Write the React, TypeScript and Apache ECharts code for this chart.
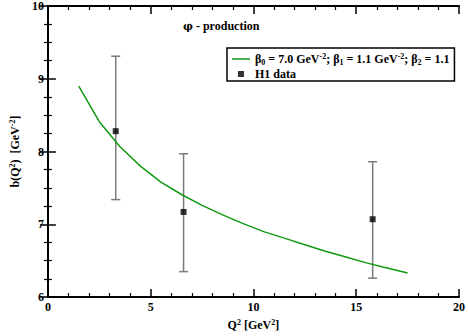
import React, { useEffect, useRef } from "react";
import * as echarts from "echarts";

const curveName = "β0 = 7.0 GeV-2; β1 = 1.1 GeV-2; β2 = 1.1";
const curveQ2 = [1.5, 2.5, 3.5, 4.5, 5.5, 6.5, 7.5, 8.5, 9.5, 10.5, 11.5, 12.5, 13.5, 14.5, 15.5, 16.5, 17.5];
const curveB = [8.9, 8.41, 8.07, 7.8, 7.58, 7.41, 7.26, 7.13, 7.01, 6.9, 6.81, 6.72, 6.63, 6.55, 6.47, 6.4, 6.33];

const h1Q2 = [3.3, 6.6, 15.8];
const h1B = [8.28, 7.17, 7.07];
const h1Low = [7.34, 6.35, 6.26];
const h1High = [9.31, 7.97, 7.86];

const xTicks = [0, 5, 10, 15, 20];
const yTicks = [6, 7, 8, 9, 10];

const FONT = "'Liberation Serif', 'Times New Roman', serif";
const base = { fontFamily: FONT, fontWeight: "bold" as const, fontSize: 12, color: "#000" };
const rich = {
  n: { ...base, lineHeight: 14 },
  sup: { ...base, fontSize: 8, lineHeight: 8, verticalAlign: "top" as const },
  sub: { ...base, fontSize: 8, lineHeight: 8, verticalAlign: "bottom" as const },
  g: { ...base, fontFamily: "'DejaVu Serif', serif", fontSize: 11, lineHeight: 14 },
};

export default function App() {
  const ref = useRef<HTMLDivElement>(null);
  useEffect(() => {
    if (!ref.current) return;
    const chart = echarts.init(ref.current, null, { renderer: "svg" });
    const axisLine = { show: true, lineStyle: { color: "#000", width: 2 } };
    const axisTick = { show: true, inside: true, length: 8, lineStyle: { color: "#000", width: 1.5 } };
    const minorTick = (n: number) => ({ show: true, splitNumber: n, length: 4, lineStyle: { color: "#000", width: 1.2 } });
    const label = { ...base, margin: 4 };
    const green = "#129912";
    chart.setOption({
      animation: false,
      backgroundColor: "#fff",
      title: {
        text: "{g|φ}{n| - production}",
        left: 183,
        top: 19,
        padding: 0,
        textStyle: { ...base, rich },
      },
      legend: {
        orient: "vertical",
        left: 227,
        top: 48,
        padding: [4, 5, 1, 5],
        itemGap: 2,
        itemWidth: 18,
        itemHeight: 6,
        symbolKeepAspect: true,
        borderColor: "#000",
        borderWidth: 1.5,
        selectedMode: false,
        data: [
          { name: curveName, icon: "path://M0,0H18V1.5H0Z", itemStyle: { color: green } },
          { name: "H1 data", icon: "path://M0,0H6V6H0Z", itemStyle: { color: "#000" } },
        ],
        formatter: (name: string) =>
          name === curveName
            ? "{n|β}{sub|0}{n| = 7.0 GeV}{sup|-2}{n|; β}{sub|1}{n| = 1.1 GeV}{sup|-2}{n|; β}{sub|2}{n| = 1.1}"
            : "{n|" + name + "}",
        textStyle: { ...base, rich },
      },
      grid: { left: 36, right: 8, top: 6, bottom: 34 },
      xAxis: [
        {
          type: "value",
          min: xTicks[0],
          max: xTicks[xTicks.length - 1],
          interval: 5,
          name: "{n|Q}{sup|2}{n| [GeV}{sup|2}{n|]}",
          nameLocation: "middle",
          nameGap: 20,
          nameTextStyle: { ...base, rich },
          axisLine,
          axisTick,
          minorTick: minorTick(5),
          axisLabel: label,
          splitLine: { show: false },
        },
        {
          type: "value",
          position: "top",
          min: xTicks[0],
          max: xTicks[xTicks.length - 1],
          interval: 5,
          axisLine,
          axisTick,
          minorTick: minorTick(5),
          axisLabel: { show: false },
          splitLine: { show: false },
        },
      ],
      yAxis: [
        {
          type: "value",
          min: yTicks[0],
          max: yTicks[yTicks.length - 1],
          interval: 1,
          name: "{n|b(Q}{sup|2}{n|)  [GeV}{sup|-2}{n|]}",
          nameLocation: "middle",
          nameGap: 18,
          nameRotate: 90,
          nameTextStyle: { ...base, rich },
          axisLine,
          axisTick,
          minorTick: minorTick(4),
          axisLabel: label,
          splitLine: { show: false },
        },
        {
          type: "value",
          position: "right",
          min: yTicks[0],
          max: yTicks[yTicks.length - 1],
          interval: 1,
          axisLine,
          axisTick,
          minorTick: minorTick(4),
          axisLabel: { show: false },
          splitLine: { show: false },
        },
      ],
      series: [
        {
          name: curveName,
          type: "line",
          data: curveQ2.map((x, i) => [x, curveB[i]]),
          symbol: "none",
          lineStyle: { color: green, width: 1.5 },
          itemStyle: { color: green },
          z: 3,
        },
        {
          name: "errors",
          type: "custom",
          data: h1Q2.map((x, i) => [x, h1B[i], h1Low[i], h1High[i]]),
          encode: { x: 0, y: [2, 3] },
          renderItem: (params: any, api: any) => {
            const x = api.value(0);
            const lo = api.coord([x, api.value(2)]);
            const hi = api.coord([x, api.value(3)]);
            const st = { stroke: "#7a7a7a", lineWidth: 1.5 };
            const cap = 4.5;
            return {
              type: "group",
              children: [
                { type: "line", shape: { x1: lo[0], y1: lo[1], x2: hi[0], y2: hi[1] }, style: st },
                { type: "line", shape: { x1: lo[0] - cap, y1: lo[1], x2: lo[0] + cap, y2: lo[1] }, style: st },
                { type: "line", shape: { x1: hi[0] - cap, y1: hi[1], x2: hi[0] + cap, y2: hi[1] }, style: st },
              ],
            };
          },
          z: 2,
        },
        {
          name: "H1 data",
          type: "scatter",
          data: h1Q2.map((x, i) => [x, h1B[i]]),
          symbol: "rect",
          symbolSize: 6,
          itemStyle: { color: "#000" },
          z: 4,
        },
      ],
    });
    return () => chart.dispose();
  }, []);
  return <div ref={ref} style={{ width: 468, height: 336, position: "absolute", left: 0, top: 0 }} />;
}
